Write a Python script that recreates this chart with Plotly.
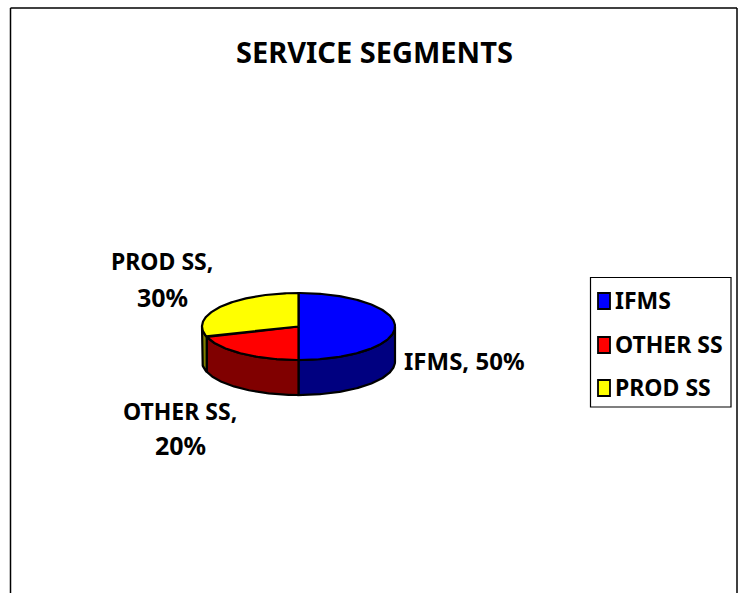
import numpy as np
import plotly.graph_objects as go

categories = ["IFMS", "OTHER SS", "PROD SS"]
values = [50, 20, 30]
top_colors = ["#0000FF", "#FF0000", "#FFFF00"]
side_colors = ["#000080", "#800000", "#808000"]
title_text = "SERVICE SEGMENTS"

W, H = 740, 593
CX, CY, RX, RY, DEPTH = 298.5, 326.5, 96.5, 33.5, 35
FONT = "Noto Sans, DejaVu Sans Condensed, sans-serif"
LINE = dict(color="black", width=2.2)
LEGEND_Y = [301, 345, 388]


def rim(a0, a1, dy=0.0):
    t = np.radians(np.linspace(a0, a1, max(int(abs(a1 - a0)), 2) + 1))
    return CX + RX * np.sin(t), CY - RY * np.cos(t) + dy


fig = go.Figure()
shares = np.array(values, dtype=float) / sum(values) * 360
edges = np.concatenate([[0], np.cumsum(shares)])

# side walls (only the front half of the rim, 90..270 degrees, is visible)
for i, cat in enumerate(categories):
    a0, a1 = max(edges[i], 90), min(edges[i + 1], 270)
    if a1 <= a0:
        continue
    xt, yt = rim(a0, a1)
    xb, yb = rim(a1, a0, DEPTH)
    fig.add_trace(go.Scatter(
        x=np.r_[xt, xb, xt[0]], y=np.r_[yt, yb, yt[0]], mode="lines",
        fill="toself", fillcolor=side_colors[i], line=LINE,
        showlegend=False, hoverinfo="skip"))

# top faces
for i, cat in enumerate(categories):
    xr, yr = rim(edges[i], edges[i + 1])
    fig.add_trace(go.Scatter(
        x=np.r_[CX, xr, CX], y=np.r_[CY, yr, CY], mode="lines",
        fill="toself", fillcolor=top_colors[i], line=LINE,
        name=cat, showlegend=False, hoverinfo="name"))

# hand-placed legend labels
fig.add_trace(go.Scatter(
    x=[615, 615, 615], y=[y + 2.5 for y in LEGEND_Y], mode="text",
    text=categories, textposition="middle right",
    textfont=dict(family=FONT, size=23, color="black", weight="bold"),
    showlegend=False, hoverinfo="skip"))

labels = [
    (402, 360.5, "left", f"{categories[0]}, {values[0]}%", 24),
    (180, 410.5, "center", f"{categories[1]},", 23),
    (180, 444.5, "center", f"{values[1]}%", 25),
    (162, 260.5, "center", f"{categories[2]},", 23),
    (162, 296.5, "center", f"{values[2]}%", 25),
]
for x, y, al, txt, size in labels:
    fig.add_annotation(x=x, y=y, text=txt, showarrow=False, xanchor=al, yanchor="middle",
                       align=al, font=dict(family=FONT, size=size, color="black", weight="bold"))

fig.add_annotation(x=374.5, y=51, text=title_text, showarrow=False, xanchor="center", yanchor="middle",
                   font=dict(family=FONT, size=29, color="black", weight="bold"))

swatches = [dict(type="rect", x0=598, x1=610, y0=y - 8, y1=y + 8, fillcolor=c,
                 line=dict(color="black", width=1.8))
            for y, c in zip(LEGEND_Y, top_colors)]

fig.update_layout(
    width=W, height=H, margin=dict(l=0, r=0, t=0, b=0), autosize=False,
    paper_bgcolor="white", plot_bgcolor="white", showlegend=False,
    xaxis=dict(range=[0, W], visible=False, fixedrange=True),
    yaxis=dict(range=[H, 0], visible=False, fixedrange=True),
    shapes=[
        dict(type="line", x0=10.5, x1=10.5, y0=8, y1=H, line=dict(color="black", width=1.5)),
        dict(type="line", x0=10.5, x1=737, y0=8, y1=8, line=dict(color="black", width=1.5)),
        dict(type="line", x0=737, x1=737, y0=8, y1=H, line=dict(color="black", width=1.5)),
        dict(type="rect", x0=590.5, x1=731, y0=277.5, y1=407, line=dict(color="black", width=1.2)),
    ] + swatches,
)
fig.write_html("out.html", config={"displayModeBar": False},
               post_script="document.body.style.margin='0';document.body.style.overflow='hidden';")
